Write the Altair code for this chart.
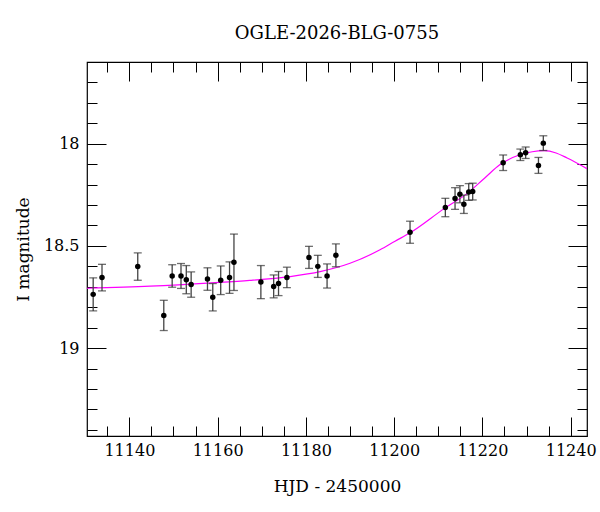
import altair as alt
import pandas as pd

# Observations (HJD - 2450000, I magnitude, error)
hjd = [11131.8, 11133.8, 11141.9, 11147.8, 11149.7, 11151.7, 11152.9, 11154.0,
       11157.7, 11158.9, 11160.7, 11162.7, 11163.7, 11169.8, 11172.7, 11173.8,
       11175.7, 11180.7, 11182.7, 11184.8, 11186.8, 11203.6, 11211.6, 11213.8,
       11214.9, 11215.8, 11216.9, 11217.8, 11224.7, 11228.6, 11229.8, 11232.7,
       11233.8]
mag = [18.737, 18.655, 18.601, 18.840, 18.647, 18.647, 18.665, 18.689,
       18.662, 18.751, 18.668, 18.655, 18.580, 18.677, 18.698, 18.684,
       18.654, 18.556, 18.600, 18.647, 18.546, 18.433, 18.312, 18.268,
       18.247, 18.296, 18.236, 18.234, 18.093, 18.054, 18.044, 18.106,
       17.997]
err = [0.081, 0.065, 0.067, 0.074, 0.055, 0.061, 0.069, 0.062,
       0.055, 0.067, 0.070, 0.077, 0.138, 0.081, 0.056, 0.059,
       0.050, 0.054, 0.054, 0.059, 0.056, 0.054, 0.045, 0.053,
       0.042, 0.045, 0.041, 0.041, 0.038, 0.028, 0.028, 0.039,
       0.036]

# Model curve
model_hjd = [11130.4, 11144.7, 11158.7, 11167.3, 11176.4, 11183.2, 11190.0,
             11196.8, 11200.2, 11203.6, 11211.5, 11216.5, 11220.6, 11224.0,
             11228.5, 11231.3, 11234.0, 11236.7, 11239.2, 11243.7]
model_mag = [18.707, 18.697, 18.681, 18.669, 18.650, 18.626, 18.585,
             18.519, 18.477, 18.436, 18.315, 18.244, 18.166, 18.102,
             18.054, 18.039, 18.034, 18.045, 18.070, 18.122]

x_domain = [11130.4, 11243.7]
y_domain = [17.6, 19.43]
x_major = [11140, 11160, 11180, 11200, 11220, 11240]
x_minor = [11135 + 5 * i for i in range(22)]
y_major = [18.0, 18.5, 19.0]
y_minor = [round(17.7 + 0.1 * i, 1) for i in range(18)]

obs = pd.DataFrame({"t": hjd, "m": mag, "e": err})
obs["lo"] = obs["m"] - obs["e"]
obs["hi"] = obs["m"] + obs["e"]
model = pd.DataFrame({"t": model_hjd, "m": model_mag})
frame = pd.DataFrame({"t": x_domain, "m": y_domain})

FONT = "DejaVu Serif"
xs = alt.Scale(domain=x_domain, nice=False, zero=False)
ys = alt.Scale(domain=y_domain, reverse=True, nice=False, zero=False)


def tick_axis(orient, values, size):
    return alt.Axis(orient=orient, values=values, labels=False, title=None,
                    domain=False, grid=False, ticks=True,
                    tickSize={"expr": str(-size)}, tickColor="black",
                    tickWidth=1)


# labelled axes (no ticks)
lab_layer = alt.Chart(frame).mark_point(opacity=0).encode(
    x=alt.X("t:Q", scale=xs, axis=alt.Axis(
        orient="bottom", values=x_major, ticks=False, domain=False, grid=False,
        labelFont=FONT, labelFontSize=16, labelColor="black", labelPadding=6,
        format="d", title="HJD - 2450000", titleFont=FONT, titleFontSize=17,
        titleFontWeight="normal", titleColor="black", titleY=50,
        titleBaseline="middle")),
    y=alt.Y("m:Q", scale=ys, axis=alt.Axis(
        orient="left", values=y_major, ticks=False, domain=False, grid=False,
        labelFont=FONT, labelFontSize=16, labelColor="black", labelPadding=8,
        labelExpr="datum.value == 18.5 ? '18.5' : format(datum.value, 'd')",
        title="I magnitude", titleFont=FONT, titleFontSize=17,
        titleFontWeight="normal", titleColor="black", titleX=-64,
        titleY=187, titleBaseline="middle", titleAngle=-90)),
)

tick_layers = []
for xo, yo, xv, yv, sz in [
    ("bottom", "left", x_major, y_major, 19),
    ("bottom", "left", x_minor, y_minor, 10),
    ("top", "right", x_major, y_major, 19),
    ("top", "right", x_minor, y_minor, 10),
]:
    tick_layers.append(
        alt.Chart(frame).mark_point(opacity=0).encode(
            x=alt.X("t:Q", scale=xs, axis=tick_axis(xo, xv, sz)),
            y=alt.Y("m:Q", scale=ys, axis=tick_axis(yo, yv, sz)),
        )
    )

line = alt.Chart(model).mark_line(color="#ff00ff", strokeWidth=1.2,
                                  interpolate="monotone", clip=True).encode(
    x=alt.X("t:Q", scale=xs, axis=None),
    y=alt.Y("m:Q", scale=ys, axis=None),
)

bars = alt.Chart(obs).mark_rule(color="#444444", strokeWidth=1.3).encode(
    x=alt.X("t:Q", scale=xs, axis=None),
    y=alt.Y("lo:Q", scale=ys, axis=None),
    y2="hi:Q",
)

cap_lo = alt.Chart(obs).mark_tick(color="#333333", orient="horizontal",
                                  size=8, thickness=1.3).encode(
    x=alt.X("t:Q", scale=xs, axis=None),
    y=alt.Y("lo:Q", scale=ys, axis=None),
)
cap_hi = alt.Chart(obs).mark_tick(color="#333333", orient="horizontal",
                                  size=8, thickness=1.3).encode(
    x=alt.X("t:Q", scale=xs, axis=None),
    y=alt.Y("hi:Q", scale=ys, axis=None),
)

pts = alt.Chart(obs).mark_circle(color="black", size=30, opacity=1).encode(
    x=alt.X("t:Q", scale=xs, axis=None),
    y=alt.Y("m:Q", scale=ys, axis=None),
)

chart = alt.layer(
    lab_layer, *tick_layers, line, bars, cap_lo, cap_hi, pts
).resolve_axis(x="independent", y="independent").properties(
    width=500,
    height=374,
    autosize=alt.AutoSizeParams(type="none"),
    padding={"left": 87, "top": 62, "right": 13, "bottom": 76},
    title=alt.TitleParams("OGLE-2026-BLG-0755", font=FONT, fontSize=18,
                          fontWeight="normal", color="black", anchor="middle",
                          offset=16),
    background="white",
).configure_view(stroke="black", strokeWidth=1.2)

chart.save("out.html", embed_options={"renderer": "svg", "actions": False})
